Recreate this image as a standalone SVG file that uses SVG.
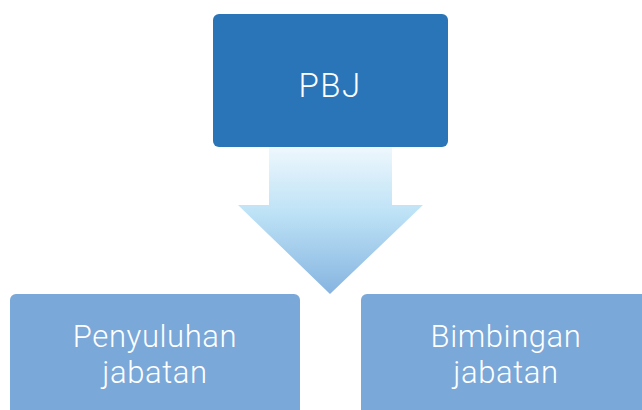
<svg xmlns="http://www.w3.org/2000/svg" width="642" height="410" viewBox="0 0 642 410">
<defs>
<linearGradient id="ag" x1="0" y1="0" x2="0" y2="1">
<stop offset="0" stop-color="#EEF7FD"/>
<stop offset="0.45" stop-color="#BDE2F6"/>
<stop offset="1" stop-color="#86B4E0"/>
</linearGradient>
<style>
.t{font-family:Roboto,"Noto Sans",sans-serif;font-size:31px;font-weight:300;fill:#ffffff;text-anchor:middle;letter-spacing:0.6px}
.sub{fill:#7AA8D9}
</style>
</defs>
<rect width="642" height="410" fill="#ffffff"/>
<g id="connectors">
<polygon points="269,147 392,147 392,205 423,205 330,294 238,205 269,205" fill="url(#ag)"/>
</g>
<g id="pbj">
<rect x="213" y="14" width="235" height="133" rx="6" fill="#2A75B8"/>
<text class="t" x="330" y="97" style="font-size:33px;letter-spacing:1.5px">PBJ</text>
</g>
<g id="penyuluhan">
<rect class="sub" x="10" y="294" width="290" height="130" rx="6"/>
<text class="t" x="155" y="347">Penyuluhan</text>
<text class="t" x="155" y="383">jabatan</text>
</g>
<g id="bimbingan">
<rect class="sub" x="361" y="294" width="290" height="130" rx="6"/>
<text class="t" x="506" y="347">Bimbingan</text>
<text class="t" x="506" y="383">jabatan</text>
</g>
</svg>
